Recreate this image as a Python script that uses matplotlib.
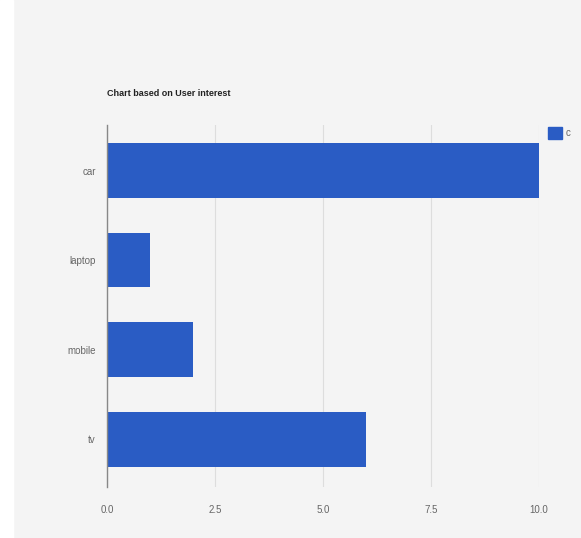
import matplotlib
matplotlib.use("Agg")
import numpy as np
from matplotlib import pyplot as plt
from matplotlib.patches import Rectangle

categories = ["car", "laptop", "mobile", "tv"]
values = [10, 1, 2, 6]
xticks = [0.0, 2.5, 5.0, 7.5, 10.0]
series_name = "c"

bg = "#f4f4f4"
bar_color = "#2a5cc4"
plt.rcParams["font.family"] = ["Liberation Sans", "DejaVu Sans"]

fig = plt.figure(figsize=(5.81, 5.38), dpi=100)
fig.patch.set_facecolor(bg)
# white strip at the left edge
fig.patches.append(Rectangle((0, 0), 13 / 581, 1, transform=fig.transFigure,
                             color="white", zorder=0))
ax = fig.add_axes([0.184, 0.095, 0.7435, 0.673])
ax.set_facecolor(bg)

y = np.arange(len(categories))
ax.barh(y, values, height=0.61, color=bar_color, zorder=3)
ax.set_ylim(len(categories) - 0.47, -0.51)
ax.set_xlim(0, 10)

ax.set_yticks(y)
ax.set_yticklabels(categories)
ax.set_xticks(xticks)
ax.set_xticklabels(["{:.1f}".format(t) for t in xticks])
ax.tick_params(axis="both", length=0, labelsize=7, colors="#666666")
ax.tick_params(axis="x", pad=13)
ax.tick_params(axis="y", pad=8)

ax.grid(axis="x", color="#dddddd", linewidth=0.8, zorder=0)
for s in ["top", "right", "bottom"]:
    ax.spines[s].set_visible(False)
ax.spines["left"].set_color("#888888")
ax.spines["left"].set_linewidth(1.0)
ax.spines["left"].set_zorder(4)

fig.text(107 / 581, 1 - 93 / 538, "Chart based on User interest", fontsize=6.5,
         fontweight="bold", color="#222222", va="center", ha="left")

# legend
fig.patches.append(Rectangle((548 / 581, 1 - 139 / 538), 14 / 581, 12 / 538,
                             transform=fig.transFigure, color=bar_color))
fig.text(566 / 581, 1 - 133 / 538, series_name, fontsize=7, color="#666666",
         va="center", ha="left")

plt.savefig("out.png", dpi=100, facecolor=bg)
